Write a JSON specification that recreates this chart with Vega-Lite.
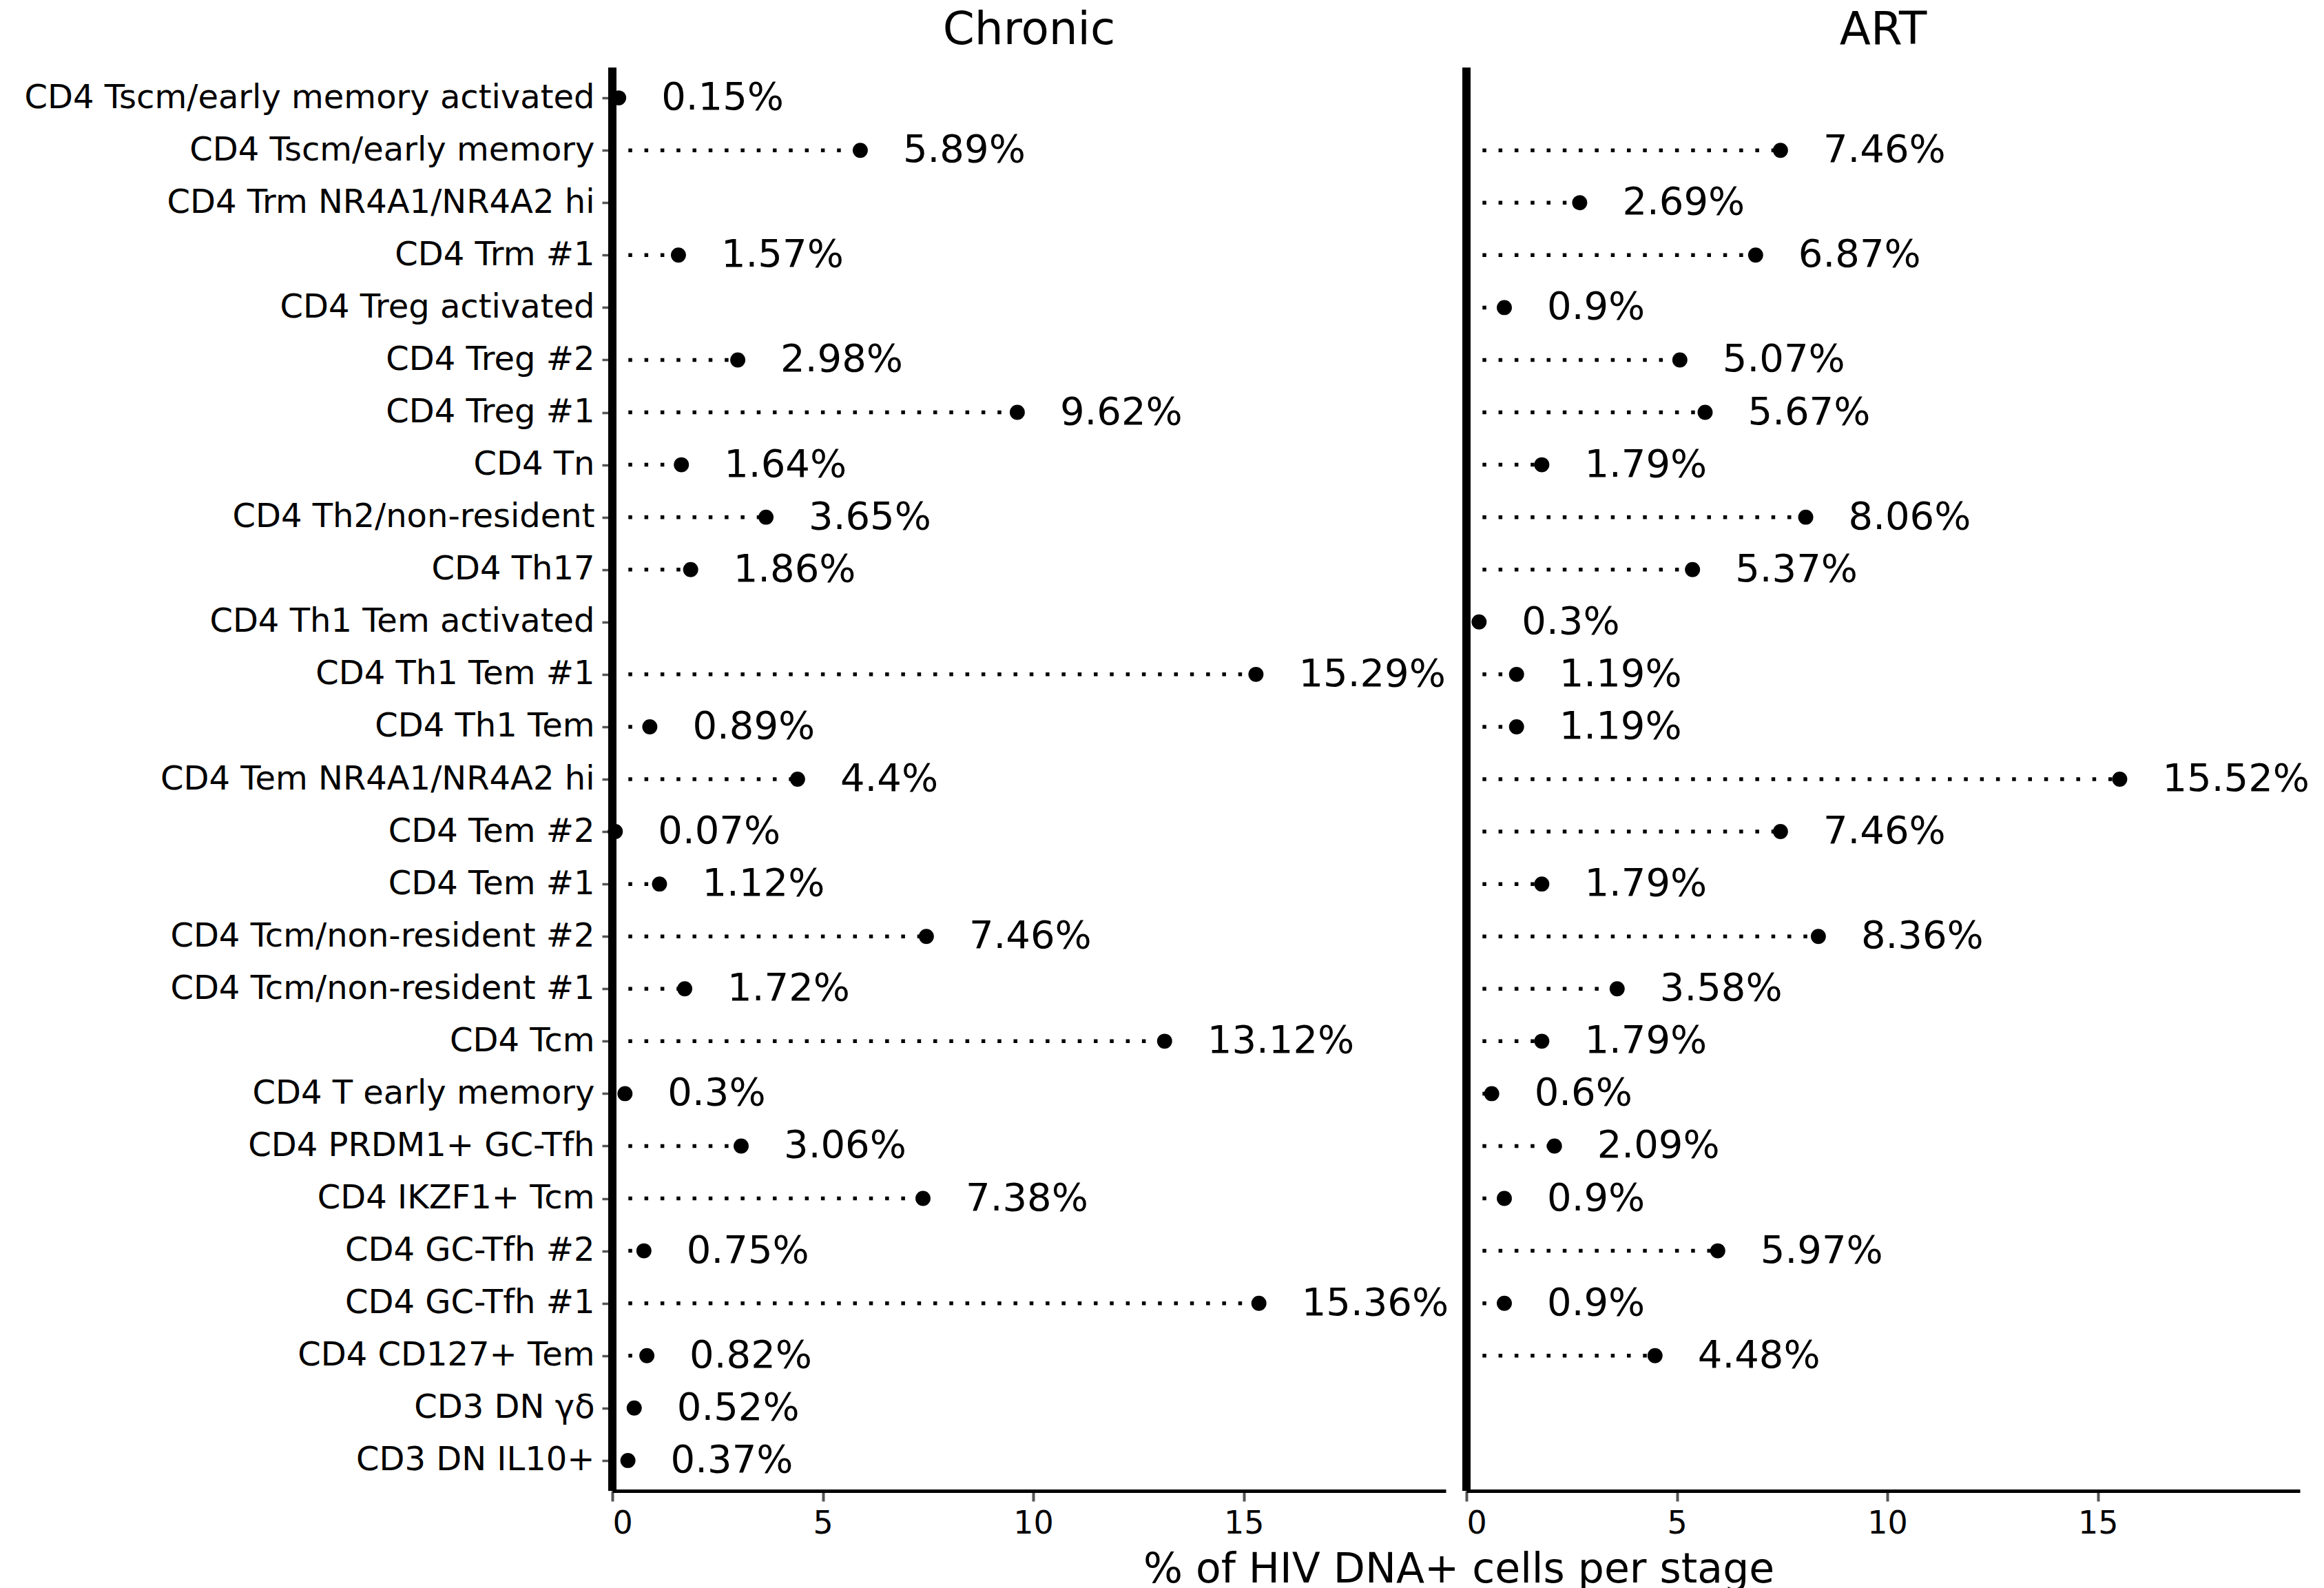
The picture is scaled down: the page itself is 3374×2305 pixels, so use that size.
{
  "$schema": "https://vega.github.io/schema/vega-lite/v6.json",
  "padding": {"left": 34, "top": 11, "right": 5, "bottom": 5},
  "background": "white",
  "bounds": "flush",
  "config": {
    "font": "DejaVu Sans",
    "view": {"stroke": null},
    "axis": {"grid": false, "labelColor": "black", "titleColor": "black", "labelFont": "DejaVu Sans", "titleFont": "DejaVu Sans"}
  },
  "data": {
    "values": [
      {"stage": "Chronic", "cell": "CD4 Tscm/early memory activated", "pct": 0.15},
      {"stage": "Chronic", "cell": "CD4 Tscm/early memory", "pct": 5.89},
      {"stage": "Chronic", "cell": "CD4 Trm #1", "pct": 1.57},
      {"stage": "Chronic", "cell": "CD4 Treg #2", "pct": 2.98},
      {"stage": "Chronic", "cell": "CD4 Treg #1", "pct": 9.62},
      {"stage": "Chronic", "cell": "CD4 Tn", "pct": 1.64},
      {"stage": "Chronic", "cell": "CD4 Th2/non-resident", "pct": 3.65},
      {"stage": "Chronic", "cell": "CD4 Th17", "pct": 1.86},
      {"stage": "Chronic", "cell": "CD4 Th1 Tem #1", "pct": 15.29},
      {"stage": "Chronic", "cell": "CD4 Th1 Tem", "pct": 0.89},
      {"stage": "Chronic", "cell": "CD4 Tem NR4A1/NR4A2 hi", "pct": 4.4},
      {"stage": "Chronic", "cell": "CD4 Tem #2", "pct": 0.07},
      {"stage": "Chronic", "cell": "CD4 Tem #1", "pct": 1.12},
      {"stage": "Chronic", "cell": "CD4 Tcm/non-resident #2", "pct": 7.46},
      {"stage": "Chronic", "cell": "CD4 Tcm/non-resident #1", "pct": 1.72},
      {"stage": "Chronic", "cell": "CD4 Tcm", "pct": 13.12},
      {"stage": "Chronic", "cell": "CD4 T early memory", "pct": 0.3},
      {"stage": "Chronic", "cell": "CD4 PRDM1+ GC-Tfh", "pct": 3.06},
      {"stage": "Chronic", "cell": "CD4 IKZF1+ Tcm", "pct": 7.38},
      {"stage": "Chronic", "cell": "CD4 GC-Tfh #2", "pct": 0.75},
      {"stage": "Chronic", "cell": "CD4 GC-Tfh #1", "pct": 15.36},
      {"stage": "Chronic", "cell": "CD4 CD127+ Tem", "pct": 0.82},
      {"stage": "Chronic", "cell": "CD3 DN γδ", "pct": 0.52},
      {"stage": "Chronic", "cell": "CD3 DN IL10+", "pct": 0.37},
      {"stage": "ART", "cell": "CD4 Tscm/early memory", "pct": 7.46},
      {"stage": "ART", "cell": "CD4 Trm NR4A1/NR4A2 hi", "pct": 2.69},
      {"stage": "ART", "cell": "CD4 Trm #1", "pct": 6.87},
      {"stage": "ART", "cell": "CD4 Treg activated", "pct": 0.9},
      {"stage": "ART", "cell": "CD4 Treg #2", "pct": 5.07},
      {"stage": "ART", "cell": "CD4 Treg #1", "pct": 5.67},
      {"stage": "ART", "cell": "CD4 Tn", "pct": 1.79},
      {"stage": "ART", "cell": "CD4 Th2/non-resident", "pct": 8.06},
      {"stage": "ART", "cell": "CD4 Th17", "pct": 5.37},
      {"stage": "ART", "cell": "CD4 Th1 Tem activated", "pct": 0.3},
      {"stage": "ART", "cell": "CD4 Th1 Tem #1", "pct": 1.19},
      {"stage": "ART", "cell": "CD4 Th1 Tem", "pct": 1.19},
      {"stage": "ART", "cell": "CD4 Tem NR4A1/NR4A2 hi", "pct": 15.52},
      {"stage": "ART", "cell": "CD4 Tem #2", "pct": 7.46},
      {"stage": "ART", "cell": "CD4 Tem #1", "pct": 1.79},
      {"stage": "ART", "cell": "CD4 Tcm/non-resident #2", "pct": 8.36},
      {"stage": "ART", "cell": "CD4 Tcm/non-resident #1", "pct": 3.58},
      {"stage": "ART", "cell": "CD4 Tcm", "pct": 1.79},
      {"stage": "ART", "cell": "CD4 T early memory", "pct": 0.6},
      {"stage": "ART", "cell": "CD4 PRDM1+ GC-Tfh", "pct": 2.09},
      {"stage": "ART", "cell": "CD4 IKZF1+ Tcm", "pct": 0.9},
      {"stage": "ART", "cell": "CD4 GC-Tfh #2", "pct": 5.97},
      {"stage": "ART", "cell": "CD4 GC-Tfh #1", "pct": 0.9},
      {"stage": "ART", "cell": "CD4 CD127+ Tem", "pct": 4.48}
    ]
  },
  "transform": [{"calculate": "datum.pct + '%'", "as": "label"}],
  "facet": {
    "column": {
      "field": "stage",
      "type": "nominal",
      "sort": ["Chronic", "ART"],
      "title": "% of HIV DNA+ cells per stage",
      "header": {
        "labelOrient": "top",
        "labelFontSize": 66,
        "labelColor": "black",
        "labelFont": "DejaVu Sans",
        "labelPadding": 20,
        "titleOrient": "bottom",
        "titleFontSize": 60,
        "titleFontWeight": "normal",
        "titleColor": "black",
        "titleFont": "DejaVu Sans",
        "titlePadding": 6
      }
    }
  },
  "spacing": 30,
  "spec": {
    "width": 1210,
    "height": 2066,
    "encoding": {
      "x": {
        "field": "pct",
        "type": "quantitative",
        "scale": {"domain": [0, 19.8], "nice": false},
        "axis": {
          "values": [0, 5, 10, 15],
          "title": null,
          "labelFontSize": 46,
          "labelPadding": 10,
          "tickSize": 15,
          "tickWidth": 4,
          "tickColor": "#555555",
          "domainColor": "black",
          "domainWidth": 5
        }
      }
    },
    "layer": [
      {
        "mark": {"type": "rule", "color": "black", "strokeWidth": 5.5, "strokeDash": [5.5, 17.8], "strokeCap": "butt"},
        "encoding": {
          "x": {"datum": 0, "type": "quantitative"},
          "x2": {"field": "pct"},
          "y": {
            "field": "cell",
            "type": "nominal",
            "scale": {
              "type": "point",
              "padding": 0.58,
              "domain": [
                "CD4 Tscm/early memory activated", "CD4 Tscm/early memory", "CD4 Trm NR4A1/NR4A2 hi", "CD4 Trm #1",
                "CD4 Treg activated", "CD4 Treg #2", "CD4 Treg #1", "CD4 Tn", "CD4 Th2/non-resident", "CD4 Th17",
                "CD4 Th1 Tem activated", "CD4 Th1 Tem #1", "CD4 Th1 Tem", "CD4 Tem NR4A1/NR4A2 hi", "CD4 Tem #2",
                "CD4 Tem #1", "CD4 Tcm/non-resident #2", "CD4 Tcm/non-resident #1", "CD4 Tcm", "CD4 T early memory",
                "CD4 PRDM1+ GC-Tfh", "CD4 IKZF1+ Tcm", "CD4 GC-Tfh #2", "CD4 GC-Tfh #1", "CD4 CD127+ Tem",
                "CD3 DN γδ", "CD3 DN IL10+"
              ]
            },
            "axis": {
              "title": null,
              "domain": false,
              "labelFontSize": 48,
              "labelLimit": 2000,
              "labelPadding": 11,
              "tickSize": 15,
              "tickWidth": 3.5,
              "tickColor": "#555555"
            }
          }
        }
      },
      {
        "mark": {"type": "point", "filled": true, "color": "black", "opacity": 1, "size": 480},
        "encoding": {"y": {"field": "cell", "type": "nominal"}}
      },
      {
        "mark": {"type": "text", "align": "left", "baseline": "middle", "dx": 62, "fontSize": 56, "color": "black"},
        "encoding": {"y": {"field": "cell", "type": "nominal"}, "text": {"field": "label"}}
      },
      {
        "mark": {"type": "rule", "color": "black", "strokeWidth": 10.7},
        "encoding": {"x": {"datum": 0, "type": "quantitative"}}
      }
    ]
  }
}
